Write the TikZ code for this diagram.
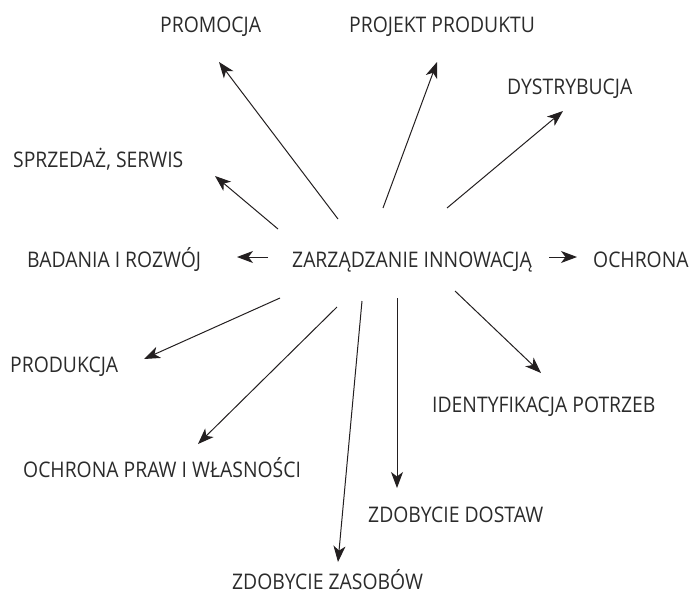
\documentclass[tikz,border=0pt]{standalone}
\usepackage{fontspec}
\setmainfont[FakeStretch=0.9]{Open Sans}
\usetikzlibrary{arrows.meta}
\definecolor{ink}{HTML}{231F20}
\definecolor{txt}{HTML}{2B2B2B}
\begin{document}
\begin{tikzpicture}[x=1pt,y=-1pt,
  label/.style={anchor=base west,inner sep=0pt,text=txt,text depth=0pt,font=\fontsize{21.5}{24}\selectfont},
  link/.style={draw=ink,line width=1pt,-{Stealth[length=16pt,width=12pt,inset=4.5pt]}}]
\useasboundingbox (0,0) rectangle (689,592);

% labels
\node[label] (center) at (292,267) {ZARZĄDZANIE INNOWACJĄ};
\node[label] (promo)  at (160,32)  {PROMOCJA};
\node[label] (proj)   at (349,32)  {PROJEKT PRODUKTU};
\node[label] (dyst)   at (507,94)  {DYSTRYBUCJA};
\node[label] (sprz)   at (13,167)  {SPRZEDAŻ, SERWIS};
\node[label] (bad)    at (27,267)  {BADANIA I ROZWÓJ};
\node[label] (ochr)   at (593,267) {OCHRONA};
\node[label] (prod)   at (10,372)  {PRODUKCJA};
\node[label] (ident)  at (432,412) {IDENTYFIKACJA POTRZEB};
\node[label] (praw)   at (23,477)  {OCHRONA PRAW I WŁASNOŚCI};
\node[label] (dost)   at (368,522) {ZDOBYCIE DOSTAW};
\node[label] (zas)    at (232,589) {ZDOBYCIE ZASOBÓW};

% arrow ends around the central label
\coordinate (s-promo) at (338,219); \coordinate (t-promo) at (219,62);
\coordinate (s-proj)  at (383,208); \coordinate (t-proj)  at (437,62);
\coordinate (s-dyst)  at (447,208); \coordinate (t-dyst)  at (563,111);
\coordinate (s-sprz)  at (278,229); \coordinate (t-sprz)  at (215,176);
\coordinate (s-bad)   at (268,257); \coordinate (t-bad)   at (237,257);
\coordinate (s-ochr)  at (549,257); \coordinate (t-ochr)  at (577,257);
\coordinate (s-prod)  at (280,298); \coordinate (t-prod)  at (144,359);
\coordinate (s-praw)  at (337,307); \coordinate (t-praw)  at (198,444);
\coordinate (s-zas)   at (362,301); \coordinate (t-zas)   at (338,562);
\coordinate (s-dost)  at (397,298); \coordinate (t-dost)  at (397,488);
\coordinate (s-ident) at (455,291); \coordinate (t-ident) at (541,373);

\foreach \n in {promo,proj,dyst,sprz,bad,ochr,prod,praw,zas,dost,ident}
  \draw[link] (s-\n) -- (t-\n);
\end{tikzpicture}
\end{document}
